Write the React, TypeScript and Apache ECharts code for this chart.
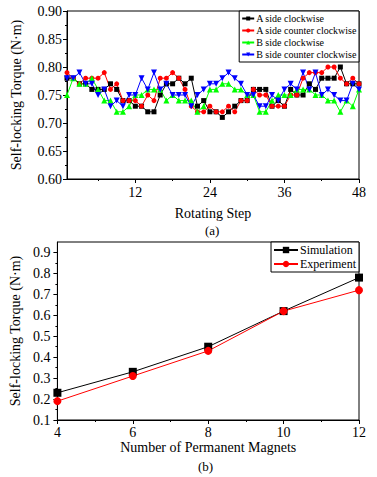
import React, { useEffect, useRef } from "react";
import * as echarts from "echarts";

const steps = Array.from({ length: 48 }, (_, i) => i + 1);

const aSideCw = [
  0.78, 0.78, 0.77, 0.77, 0.76, 0.76, 0.76, 0.77, 0.76, 0.74, 0.74, 0.73,
  0.73, 0.72, 0.72, 0.75, 0.77, 0.77, 0.78, 0.77, 0.78, 0.73, 0.74, 0.72,
  0.72, 0.71, 0.72, 0.73, 0.74, 0.74, 0.76, 0.76, 0.76, 0.73, 0.74, 0.73,
  0.76, 0.75, 0.75, 0.77, 0.76, 0.78, 0.78, 0.78, 0.80, 0.77, 0.77, 0.77,
];
const aSideCcw = [
  0.79, 0.78, 0.77, 0.78, 0.78, 0.78, 0.79, 0.76, 0.77, 0.74, 0.74, 0.74,
  0.73, 0.75, 0.74, 0.78, 0.78, 0.79, 0.78, 0.76, 0.73, 0.72, 0.72, 0.73,
  0.72, 0.72, 0.73, 0.72, 0.74, 0.74, 0.76, 0.75, 0.75, 0.73, 0.73, 0.73,
  0.75, 0.75, 0.78, 0.79, 0.79, 0.79, 0.80, 0.80, 0.78, 0.77, 0.78, 0.77,
];
const bSideCw = [
  0.75, 0.78, 0.77, 0.77, 0.78, 0.76, 0.74, 0.74, 0.72, 0.72, 0.73, 0.75,
  0.75, 0.76, 0.76, 0.76, 0.74, 0.75, 0.74, 0.74, 0.74, 0.72, 0.73, 0.76,
  0.76, 0.77, 0.77, 0.76, 0.76, 0.75, 0.75, 0.72, 0.72, 0.74, 0.75, 0.75,
  0.75, 0.76, 0.76, 0.76, 0.75, 0.75, 0.74, 0.74, 0.72, 0.74, 0.73, 0.76,
];
const bSideCcw = [
  0.78, 0.78, 0.79, 0.77, 0.77, 0.75, 0.76, 0.73, 0.74, 0.73, 0.75, 0.75,
  0.78, 0.76, 0.79, 0.76, 0.77, 0.75, 0.75, 0.75, 0.73, 0.75, 0.76, 0.77,
  0.77, 0.78, 0.79, 0.78, 0.77, 0.75, 0.75, 0.73, 0.73, 0.75, 0.74, 0.76,
  0.77, 0.76, 0.79, 0.76, 0.79, 0.75, 0.76, 0.75, 0.74, 0.74, 0.77, 0.76,
];

const stepTicks = [12, 24, 36, 48];
const stepMinorTicks = [6, 18, 30, 42];

const magnets = [4, 6, 8, 10, 12];
const simulation = [0.23, 0.33, 0.45, 0.62, 0.78];
const experiment = [0.19, 0.31, 0.43, 0.62, 0.72];
const torqueTicksB = [0.1, 0.2, 0.3, 0.4, 0.5, 0.6, 0.7, 0.8, 0.9];
const torqueMinorB = [0.15, 0.25, 0.35, 0.45, 0.55, 0.65, 0.75, 0.85];

const FONT = "Liberation Serif";

export default function App() {
  const ref = useRef<HTMLDivElement>(null);
  useEffect(() => {
    if (!ref.current) return;
    const chart = echarts.init(ref.current, null, { renderer: "svg" });
    const txt = { color: "#000", fontFamily: FONT };
    const pair = (xs: number[], ys: number[]) => xs.map((x, i) => [x, ys[i]]);
    const lineAx = { show: true, lineStyle: { color: "#000", width: 1 } };

    chart.setOption({
      animation: false,
      backgroundColor: "#fff",
      textStyle: { fontFamily: FONT },
      grid: [
        { left: 67, top: 11, width: 292, height: 168, show: true, borderColor: "#000", borderWidth: 1 },
        { left: 55, top: 242, width: 304, height: 178, show: true, borderColor: "#000", borderWidth: 1 },
      ],
      xAxis: [
        {
          type: "value", gridIndex: 0, min: 1, max: 48, position: "bottom",
          axisLine: lineAx,
          axisTick: { show: true, customValues: stepTicks, length: 4, lineStyle: { color: "#000" } },
          axisLabel: { customValues: stepTicks, margin: 6, fontSize: 14, ...txt },
          splitLine: { show: false },
          name: "Rotating Step", nameLocation: "middle", nameGap: 27,
          nameTextStyle: { fontSize: 14, ...txt },
        },
        {
          type: "value", gridIndex: 0, min: 1, max: 48, position: "bottom",
          axisLine: { show: false },
          axisTick: { show: true, customValues: stepMinorTicks, length: 2, lineStyle: { color: "#000" } },
          axisLabel: { show: false },
          splitLine: { show: false },
        },
        {
          type: "value", gridIndex: 1, min: 4, max: 12, interval: 2, position: "bottom",
          axisLine: lineAx,
          axisTick: { show: true, length: 4, lineStyle: { color: "#000" } },
          minorTick: { show: true, splitNumber: 2, length: 2, lineStyle: { color: "#000" } },
          axisLabel: { margin: 5, fontSize: 14, ...txt },
          splitLine: { show: false },
          minorSplitLine: { show: false },
          name: "Number of Permanent Magnets", nameLocation: "middle", nameGap: 20,
          nameTextStyle: { fontSize: 14, ...txt },
        },
      ],
      yAxis: [
        {
          type: "value", gridIndex: 0, min: 0.6, max: 0.9, interval: 0.05, position: "left",
          axisLine: lineAx,
          axisTick: { show: true, length: 4, lineStyle: { color: "#000" } },
          minorTick: { show: true, splitNumber: 2, length: 2, lineStyle: { color: "#000" } },
          axisLabel: { margin: 5, fontSize: 14, formatter: (v: number) => v.toFixed(2), ...txt },
          splitLine: { show: false },
          minorSplitLine: { show: false },
          name: "Self-locking Torque (N·m)", nameLocation: "middle", nameGap: 44,
          nameTextStyle: { fontSize: 14, ...txt },
        },
        {
          type: "value", gridIndex: 1, min: 0.1, max: 0.95, position: "left",
          axisLine: lineAx,
          axisTick: { show: true, customValues: torqueTicksB, length: 4, lineStyle: { color: "#000" } },
          axisLabel: { customValues: torqueTicksB, margin: 7, fontSize: 14, formatter: (v: number) => v.toFixed(1), ...txt },
          splitLine: { show: false },
          name: "Self-locking Torque (N·m)", nameLocation: "middle", nameGap: 33,
          nameTextStyle: { fontSize: 14, ...txt },
        },
        {
          type: "value", gridIndex: 1, min: 0.1, max: 0.95, position: "left",
          axisLine: { show: false },
          axisTick: { show: true, customValues: torqueMinorB, length: 2, lineStyle: { color: "#000" } },
          axisLabel: { show: false },
          splitLine: { show: false },
        },
      ],
      legend: [
        {
          orient: "vertical", right: 18, top: 11,
          data: ["A side clockwise", "A side counter clockwise", "B side clockwise", "B side counter clockwise"],
          itemWidth: 12, itemHeight: 5, itemGap: 1,
          padding: [2, 2, 2, 2],
          borderColor: "#000", borderWidth: 1, borderRadius: 0,
          backgroundColor: "#fff",
          textStyle: { fontSize: 10, lineHeight: 11, ...txt, padding: [0, 0, 0, -3] },
        },
        {
          orient: "vertical", right: 18, top: 242,
          data: ["Simulation", "Experiment"],
          itemWidth: 24, itemHeight: 8, itemGap: 2,
          padding: [2, 3, 2, 2],
          borderColor: "#000", borderWidth: 1, borderRadius: 0,
          backgroundColor: "#fff",
          textStyle: { fontSize: 12, ...txt, padding: [0, 0, 0, -3] },
        },
      ],
      series: [
        {
          name: "A side clockwise", type: "line", xAxisIndex: 0, yAxisIndex: 0,
          data: pair(steps, aSideCw), symbol: "rect", symbolSize: 5,
          itemStyle: { color: "#000" }, lineStyle: { color: "#000", width: 1 },
        },
        {
          name: "A side counter clockwise", type: "line", xAxisIndex: 0, yAxisIndex: 0,
          data: pair(steps, aSideCcw), symbol: "circle", symbolSize: 5,
          itemStyle: { color: "#ff0000" }, lineStyle: { color: "#ff0000", width: 1 },
        },
        {
          name: "B side clockwise", type: "line", xAxisIndex: 0, yAxisIndex: 0,
          data: pair(steps, bSideCw), symbol: "triangle", symbolSize: 6,
          itemStyle: { color: "#00ff00" }, lineStyle: { color: "#00ff00", width: 1 },
        },
        {
          name: "B side counter clockwise", type: "line", xAxisIndex: 0, yAxisIndex: 0,
          data: pair(steps, bSideCcw), symbol: "triangle", symbolRotate: 180, symbolSize: 6,
          itemStyle: { color: "#0000ff" }, lineStyle: { color: "#0000ff", width: 1 },
        },
        {
          name: "Simulation", type: "line", xAxisIndex: 2, yAxisIndex: 1,
          data: pair(magnets, simulation), symbol: "rect", symbolSize: 8,
          itemStyle: { color: "#000" }, lineStyle: { color: "#000", width: 1 },
        },
        {
          name: "Experiment", type: "line", xAxisIndex: 2, yAxisIndex: 1,
          data: pair(magnets, experiment), symbol: "circle", symbolSize: 8,
          itemStyle: { color: "#ff0000" }, lineStyle: { color: "#ff0000", width: 1 },
        },
      ],
      graphic: [
        { type: "text", left: 205, top: 224, style: { text: "(a)", fontSize: 13, fill: "#000", fontFamily: FONT } },
        { type: "text", left: 198, top: 460, style: { text: "(b)", fontSize: 13, fill: "#000", fontFamily: FONT } },
      ],
    });
    return () => chart.dispose();
  }, []);
  return <div ref={ref} style={{ position: "fixed", left: 0, top: 0, width: 377, height: 477 }} />;
}
